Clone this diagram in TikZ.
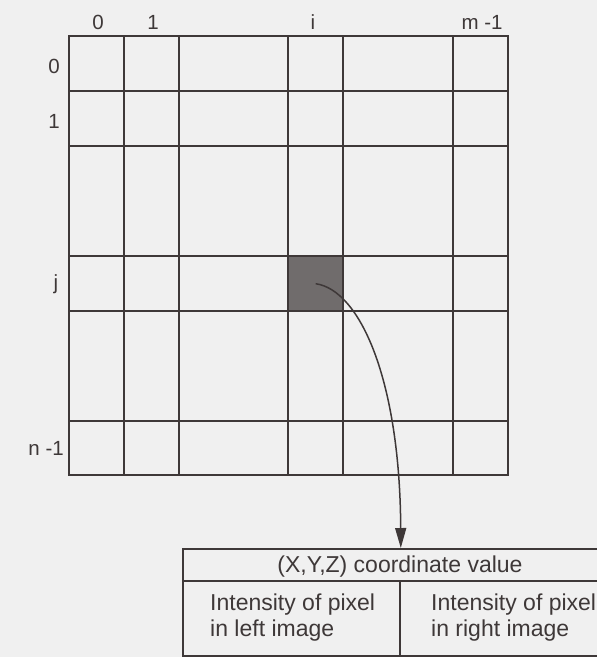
\documentclass[tikz,border=0pt]{standalone}
\usepackage{fontspec}
\setmainfont{Liberation Sans}
\usetikzlibrary{arrows.meta}
\definecolor{ink}{RGB}{62,56,56}
\definecolor{bg}{RGB}{240,240,240}
\definecolor{shade}{RGB}{112,108,108}
\begin{document}
\begin{tikzpicture}[x=1pt,y=-1pt,
  gridline/.style={draw=ink,line width=1.8pt},
  lbl/.style={font=\fontsize{20.5}{24}\selectfont,text=ink,anchor=base,inner sep=0pt},
  tbltext/.style={font=\fontsize{23}{26}\selectfont,text=ink,inner sep=0pt},
  tblline/.style={draw=ink,line width=1.6pt},
  link/.style={draw=ink,line width=1.5pt,-{Triangle[length=20pt,width=11pt]}}]
\useasboundingbox (0,0) rectangle (597,657);
\clip (0,0) rectangle (597,657);
\fill[bg] (0,0) rectangle (597,657);
% shaded pixel
\node[fill=shade,minimum width=55pt,minimum height=55pt,inner sep=0pt,anchor=north west] (cellij) at (288,256) {};
% grid
\foreach \x in {124,179,288,343,453} \draw[gridline] (\x,36) -- (\x,475);
\foreach \y in {91,146,256,311,421} \draw[gridline] (69,\y) -- (508,\y);
\draw[gridline] (69,36) rectangle (508,475);
% column labels
\node[lbl] (col0) at (98,29) {0};
\node[lbl] (col1) at (153,29) {1};
\node[lbl] (coli) at (313,29) {i};
\node[lbl] (colm) at (482,29) {m -1};
% row labels
\node[lbl] (row0) at (54,73) {0};
\node[lbl] (row1) at (54,128) {1};
\node[lbl] (rowj) at (56,289) {j};
\node[lbl,anchor=base east] (rown) at (64,455) {n -1};
% table
\node[tblline,minimum width=436pt,minimum height=107pt,inner sep=0pt,anchor=north west] (tbl) at (182,548) {};
\draw[tblline] (182,581) -- (618,581);
\draw[tblline] (400,581) -- (400,655);
\node[tbltext,anchor=base] (title) at (400,572) {(X,Y,Z) coordinate value};
\node[tbltext,anchor=base west,align=left] (leftcell) at (210,636) {Intensity of pixel\\in left image};
\node[tbltext,anchor=base west,align=left] (rightcell) at (431,636) {Intensity of pixel\\in right image};
% connector
\draw[link] (cellij.center) .. controls (360,290) and (400,380) .. (tbl.north);
\end{tikzpicture}
\end{document}
